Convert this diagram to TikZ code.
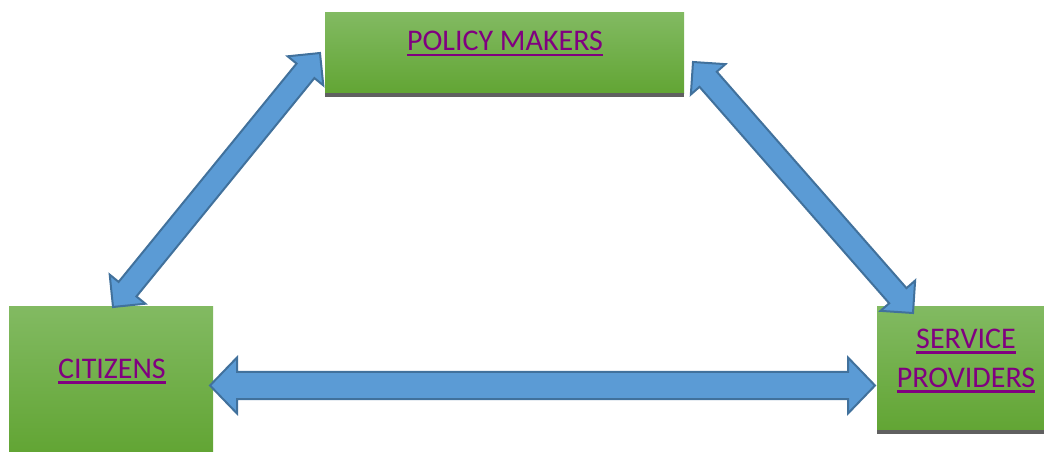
\documentclass[tikz,border=0pt]{standalone}
\usepackage{fontspec}
\setmainfont{Carlito}
\usetikzlibrary{calc,positioning}

\definecolor{boxtop}{HTML}{82BA62}
\definecolor{boxbot}{HTML}{62A534}
\definecolor{stripgray}{HTML}{606060}
\definecolor{lblpurple}{HTML}{800080}
\definecolor{arrowfill}{HTML}{5B9BD5}
\definecolor{arrowline}{HTML}{41719C}

% thick underline, as in the original
\newcommand{\ulbl}[1]{\setbox0\hbox{#1}\rlap{\rule[-5.5pt]{\wd0}{2.5pt}}\box0}

% block arrow with two heads: ends, head length, head half width, shaft half width
\newcommand{\dblarrow}[5]{%
\draw [arrowbody] (#1)
  -- ($(#1)!#3!(#2)!#4!90:(#2)$) -- ($(#1)!#3!(#2)!#5!90:(#2)$)
  -- ($(#2)!#3!(#1)!#5!-90:(#1)$) -- ($(#2)!#3!(#1)!#4!-90:(#1)$)
  -- (#2)
  -- ($(#2)!#3!(#1)!#4!90:(#1)$) -- ($(#2)!#3!(#1)!#5!90:(#1)$)
  -- ($(#1)!#3!(#2)!#5!-90:(#2)$) -- ($(#1)!#3!(#2)!#4!-90:(#2)$)
  -- cycle;}

\tikzset{
  boxfill/.style={top color=boxtop, bottom color=boxbot, inner sep=0pt, anchor=north west},
  lbl/.style={text=lblpurple, font=\fontsize{30}{39}\selectfont, inner sep=0pt, align=center, anchor=base},
  arrowbody/.style={fill=arrowfill, draw=arrowline, line width=2pt, line join=miter}
}

\begin{document}
\begin{tikzpicture}[x=1pt,y=-1pt]
\useasboundingbox (0,0) rectangle (1044,452);
% boxes
\node [boxfill, minimum width=359pt, minimum height=81pt] (policy) at (325,12) { };
\fill [stripgray] (policy.south west) rectangle ++(359,4);
\node [boxfill, minimum width=204pt, minimum height=146pt] (citizens) at (9,306) { };
\node [boxfill, minimum width=178pt, minimum height=124pt] (service) at (877,306) { };
\fill [stripgray] (service.south west) rectangle ++(178,4);
% labels
\node [lbl] (policy-txt) at (505,51) {\ulbl{POLICY MAKERS}};
\node [lbl] (citizens-txt) at (112,378) {\ulbl{CITIZENS}};
\node [lbl] (service-txt) at (966,387) {\ulbl{SERVICE}\\\ulbl{PROVIDERS}};
% arrow tips
\coordinate (cit-top) at (113,307);
\coordinate (pol-left) at (320,53);
\coordinate (pol-right) at (693,62);
\coordinate (ser-top) at (913,313);
\coordinate (cit-right) at (210,385.5);
\coordinate (ser-left) at (875,385.5);
\dblarrow{cit-top}{pol-left}{23pt}{23pt}{11.5pt}
\dblarrow{pol-right}{ser-top}{23pt}{23pt}{11.5pt}
\dblarrow{cit-right}{ser-left}{27pt}{28pt}{13.7pt}
\end{tikzpicture}
\end{document}
